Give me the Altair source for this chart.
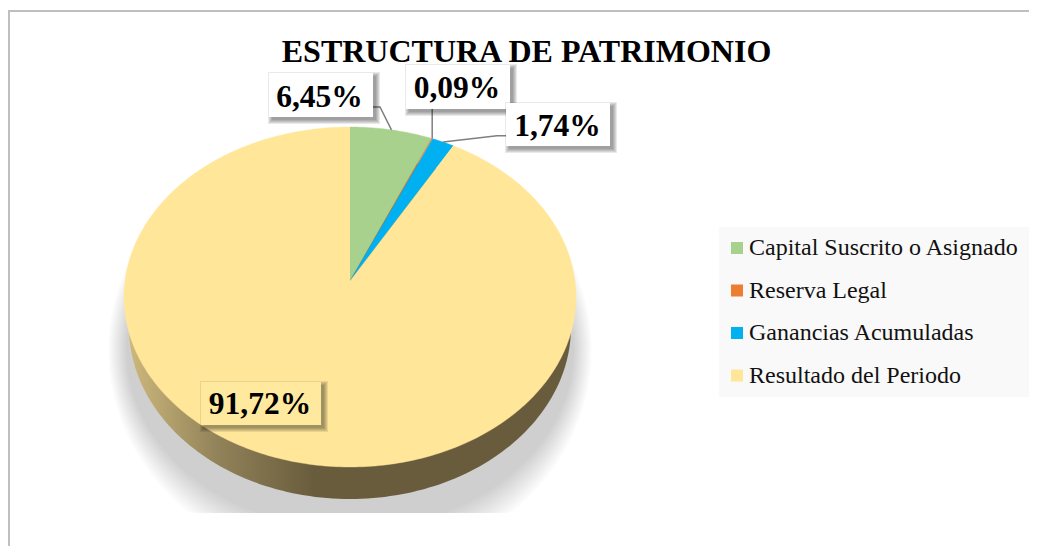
import math
import altair as alt
import pandas as pd

# ---- chart values
categories = ["Capital Suscrito o Asignado", "Reserva Legal", "Ganancias Acumuladas", "Resultado del Periodo"]
values = [6.45, 0.09, 1.74, 91.72]
labels = ["6,45%", "0,09%", "1,74%", "91,72%"]
colors = ["#a9d18e", "#ed7d31", "#00b0f0", "#ffe699"]
title = "ESTRUCTURA DE PATRIMONIO"

# ---- layout (page pixels, minus the 8px body margin)
W, H = 1021, 538
OFF = 8
APEX = (350 - OFF, 281 - OFF)
B, A, K = 225.0, 168.5, 0.094
FONT = "Liberation Serif"

sx = alt.Scale(domain=[0, W], range=[0, W])
sy = alt.Scale(domain=[0, H], range=[0, H])
X = alt.X("x:Q", scale=sx, axis=None)
Y = alt.Y("y:Q", scale=sy, axis=None)


def rim(pct):
    """Tilted-disc projection of a point on the pie's rim at a cumulative share."""
    t = math.radians(pct * 3.6)
    d = 1 + K * math.cos(t)
    return APEX[0] + B * math.sin(t) / d, APEX[1] - A * math.cos(t) / d


def ellipse_band(cx, cy, rx, ry, clip=None, n=120):
    rows = []
    for i in range(n + 1):
        a = math.pi * i / n
        x = cx - rx * math.cos(a)
        dy = ry * math.sin(a)
        low = cy + dy
        rows.append({"x": x, "y": cy - dy, "y2": min(low, clip) if clip else low})
    return pd.DataFrame(rows)


def band(df, **mark):
    return alt.Chart(df).mark_area(**mark).encode(x=X, y=Y, y2=alt.Y2("y2:Q"))


layers = []

# frame
frame = pd.DataFrame([
    {"x": 0, "x2": 2, "y": 2, "y2": H},
    {"x": 0, "x2": W, "y": 2, "y2": 4},
])
layers.append(alt.Chart(frame).mark_rect(color="#bfbfbf").encode(x=X, x2="x2:Q", y=Y, y2="y2:Q"))

# legend background
lg = pd.DataFrame([{"x": 719 - OFF, "x2": W, "y": 227 - OFF, "y2": 397 - OFF}])
layers.append(alt.Chart(lg).mark_rect(color="#f9f9f9").encode(x=X, x2="x2:Q", y=Y, y2="y2:Q"))

# soft shadow under the disc
CLIP = 513 - OFF
for i in range(12):
    grow = (11 - i) * 1.6
    layers.append(band(ellipse_band(342, 342, 224 + grow, 180 + grow * 2.2, clip=CLIP),
                       color="#000000", opacity=0.017))

# side wall
wall = ellipse_band(342, 319, 221, 172)
layers.append(band(wall, color=alt.Gradient(
    gradient="linear", x1=0, x2=1, y1=0, y2=0,
    stops=[alt.GradientStop(offset=0, color="#cdb87c"),
           alt.GradientStop(offset=0.2, color="#918259"),
           alt.GradientStop(offset=0.42, color="#695c3c"),
           alt.GradientStop(offset=1, color="#695c3c")])))

# pie wedges
rows = []
start = 0.0
for cat, val in zip(categories, values):
    steps = max(2, int(val * 4))
    rows.append({"name": cat, "x": APEX[0], "y": APEX[1], "o": 0})
    for j in range(steps + 1):
        px, py = rim(start + val * j / steps)
        rows.append({"name": cat, "x": px, "y": py, "o": j + 1})
    start += val
wedges = pd.DataFrame(rows)
layers.append(
    alt.Chart(wedges).mark_line(strokeWidth=0.4, interpolate="linear").encode(
        x=X, y=Y, order="o:Q",
        stroke=alt.Stroke("name:N", sort=categories,
                          scale=alt.Scale(domain=categories, range=colors), legend=None),
        fill=alt.Fill("name:N", sort=categories,
                      scale=alt.Scale(domain=categories, range=colors),
                      legend=alt.Legend(
                          title=None, orient="none", legendX=723 - OFF, legendY=236 - OFF,
                          padding=0, symbolType="square", symbolSize=144, symbolOffset=2,
                          symbolStrokeWidth=0, labelFont=FONT, labelFontSize=24, labelColor="#111111",
                          rowPadding=18.5, labelOffset=0, labelLimit=400)),
    )
)

# leader lines
cum = [sum(values[:i]) + values[i] / 2 for i in range(len(values))]
leaders = pd.DataFrame(
    [{"k": 0, "o": 0, "x": 369 - OFF, "y": 107 - OFF}, {"k": 0, "o": 1, "x": 380 - OFF, "y": 107 - OFF},
     dict(k=0, o=2, x=rim(cum[0])[0], y=rim(cum[0])[1]),
     {"k": 1, "o": 0, "x": rim(cum[1])[0], "y": 106 - OFF}, dict(k=1, o=1, x=rim(cum[1])[0], y=rim(cum[1])[1]),
     {"k": 2, "o": 0, "x": 510 - OFF, "y": 135.7 - OFF}, {"k": 2, "o": 1, "x": 497 - OFF, "y": 135.7 - OFF},
     dict(k=2, o=2, x=rim(cum[2])[0], y=rim(cum[2])[1])])
layers.append(alt.Chart(leaders).mark_line(color="#7f7f7f", strokeWidth=1.5).encode(
    x=X, y=Y, order="o:Q", detail="k:N"))

# label boxes with soft shadows
boxes = [(269, 373, 73, 117, "#ffffff"), (406, 510, 65, 109, "#ffffff"),
         (506, 610, 103, 146, "#ffffff"), (201, 321, 382, 425, "#ffe99f")]
for x0, x1, y0, y1, fill in boxes:
    for g in range(4, -1, -1):
        s = pd.DataFrame([{"x": x0 + 3 - OFF - g, "x2": x1 + 3 - OFF + g,
                           "y": y0 + 3 - OFF - g, "y2": y1 + 3 - OFF + g}])
        layers.append(alt.Chart(s).mark_rect(color="#000000", opacity=0.085).encode(
            x=X, x2="x2:Q", y=Y, y2="y2:Q"))
    b = pd.DataFrame([{"x": x0 - OFF, "x2": x1 - OFF, "y": y0 - OFF, "y2": y1 - OFF}])
    layers.append(alt.Chart(b).mark_rect(color=fill).encode(x=X, x2="x2:Q", y=Y, y2="y2:Q"))

# texts
pos = [(319.5, 98), (457, 89), (557.5, 126.5), (260, 405)]
tx = pd.DataFrame([{"t": t, "x": p[0] - OFF, "y": p[1] - OFF} for t, p in zip(labels, pos)])
layers.append(alt.Chart(tx).mark_text(font=FONT, fontWeight="bold", fontSize=31.5, color="#000000",
                                      baseline="middle", align="center").encode(x=X, y=Y, text="t:N"))
tt = pd.DataFrame([{"t": title, "x": 526.5 - OFF, "y": 52 - OFF}])
layers.append(alt.Chart(tt).mark_text(font=FONT, fontWeight="bold", fontSize=32, color="#000000",
                                      baseline="middle", align="center").encode(x=X, y=Y, text="t:N"))

chart = alt.layer(*layers).properties(
    width=W, height=H, padding=0, autosize=alt.AutoSizeParams(type="none"),
    background="#ffffff",
).configure_view(stroke=None)

chart.save("out.html", embed_options={"renderer": "svg", "actions": False})
